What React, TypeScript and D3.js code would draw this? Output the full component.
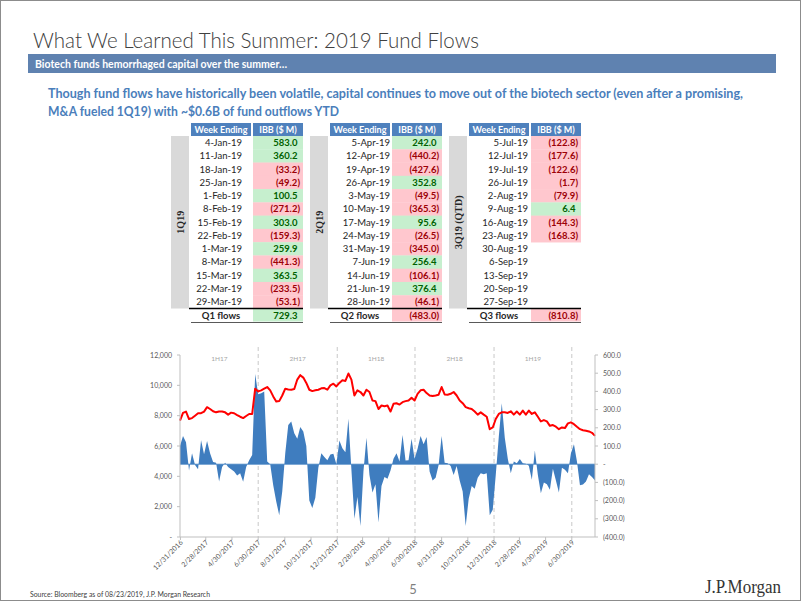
import React from "react";
import * as d3 from "d3";

// ---------- DATA ----------
const q1Weeks = ["4-Jan-19","11-Jan-19","18-Jan-19","25-Jan-19","1-Feb-19","8-Feb-19","15-Feb-19","22-Feb-19","1-Mar-19","8-Mar-19","15-Mar-19","22-Mar-19","29-Mar-19"];
const q1Flows: (number | null)[] = [583.0, 360.2, -33.2, -49.2, 100.5, -271.2, 303.0, -159.3, 259.9, -441.3, 363.5, -233.5, -53.1];
const q2Weeks = ["5-Apr-19","12-Apr-19","19-Apr-19","26-Apr-19","3-May-19","10-May-19","17-May-19","24-May-19","31-May-19","7-Jun-19","14-Jun-19","21-Jun-19","28-Jun-19"];
const q2Flows: (number | null)[] = [242.0, -440.2, -427.6, 352.8, -49.5, -365.3, 95.6, -26.5, -345.0, 256.4, -106.1, 376.4, -46.1];
const q3Weeks = ["5-Jul-19","12-Jul-19","19-Jul-19","26-Jul-19","2-Aug-19","9-Aug-19","16-Aug-19","23-Aug-19","30-Aug-19","6-Sep-19","13-Sep-19","20-Sep-19","27-Sep-19"];
const q3Flows: (number | null)[] = [-122.8, -177.6, -122.6, -1.7, -79.9, 6.4, -144.3, -168.3, null, null, null, null, null];
const quarterLabels = ["1Q19", "2Q19", "3Q19 (QTD)"];
const totalLabels = ["Q1 flows", "Q2 flows", "Q3 flows"];
const quarterTotals = [729.3, -483.0, -810.8];

// weekly series, week ending Fridays starting 12/30/2016
const firstWeek = "12/30/2016";
const indexLevel = [
  7670,8180,8270,7780,7840,8000,8160,8160,8270,8560,8440,8290,8220,8270,8270,8220,8070,8200,8160,8040,
  7930,7840,7980,8110,8110,9780,9600,9670,9780,9890,9670,9270,8930,8960,9330,9780,9730,9710,9760,10380,
  10670,10510,10160,9710,9620,9670,9710,9800,9820,9710,10000,10110,9930,10160,10330,10290,10780,10380,9330,9670,
  9560,9330,9710,9560,9000,8960,8440,8670,8620,8670,8270,8780,8820,8730,8890,8960,9000,9180,9000,9440,
  9670,9710,9490,9330,9290,9330,9380,9890,9400,9380,9440,9560,9330,9000,8820,8560,8490,8440,8270,8070,
  8220,8070,7930,7110,7220,7780,8110,8220,8220,8180,8290,8070,8270,8070,8330,8070,8330,8110,8220,7930,
  7620,7710,7620,7330,7380,7270,7110,7220,7180,7490,7560,7440,7270,7110,7040,7000,6960,6870,6670
];
const fundFlows = [
  100,155,120,-35,60,-5,-28,132,55,128,60,12,8,-95,-15,8,-15,-28,-40,-62,
  -50,-97,-15,22,50,495,385,390,400,15,0,-115,-205,-280,-150,60,215,235,170,140,
  205,180,100,-200,-240,-185,-20,60,40,22,53,58,0,130,88,65,250,-30,-300,-180,
  -340,-40,145,-60,-155,-110,-320,-120,-70,-80,-35,30,60,15,160,20,22,140,30,85,
  155,110,150,-40,-90,-75,-5,155,8,5,-10,-60,-10,-90,-150,-340,-190,-120,-135,-75,
  -50,-55,-50,-280,-250,-60,150,335,145,30,-50,15,5,28,5,2,-8,-85,75,-60,
  -160,-100,-110,-140,-25,-90,-155,-20,-30,-50,60,110,15,-115,-112,-95,-55,-70,-90
];
const xTickLabels = ["12/31/2016","2/28/2017","4/30/2017","6/30/2017","8/31/2017","10/31/2017","12/31/2017","2/28/2018","4/30/2018","6/30/2018","8/31/2018","10/31/2018","12/31/2018","2/28/2019","4/30/2019","6/30/2019"];
const halfBoundaries = ["12/31/2016","6/30/2017","12/31/2017","6/30/2018","12/31/2018","6/30/2019"];
const halfLabels = ["1H17","2H17","1H18","2H18","1H19"];
const leftTicks = [0, 2000, 4000, 6000, 8000, 10000, 12000];
const rightTicks = [-400, -300, -200, -100, 0, 100, 200, 300, 400, 500, 600];

// ---------- HELPERS ----------
const FONT = "Lato, 'Open Sans', sans-serif";
const parse = d3.timeParse("%m/%d/%Y");
const fmtFlow = (v: number) => (v < 0 ? `(${Math.abs(v).toFixed(1)})` : v.toFixed(1));

function QuarterTable({ x0, weeks, flows, label, totalLabel, total, dateRight }: any) {
  const headTop = 123, rowTop = 136, pitch = 13.27;
  const bandW = 18, wL = x0 + 20, wR = x0 + 80, iL = x0 + 82, iR = x0 + 132;
  const bodyBottom = rowTop + pitch * weeks.length;
  const valueX = (v: number) => (v < 0 ? iR - 3 : iR - 5.5);
  return (
    <g>
      <rect x={x0} y={rowTop} width={bandW} height={bodyBottom - rowTop} fill="#d9d9d9" />
      <text
        transform={`translate(${x0 + bandW / 2 + 3.5},${(rowTop + bodyBottom) / 2}) rotate(-90)`}
        textAnchor="middle" fontFamily="'Liberation Serif', serif" fontWeight="bold" fontSize={10} fill="#262626"
      >{label}</text>
      <rect x={wL} y={headTop} width={wR - wL} height={rowTop - headTop} fill="#4f81bd" />
      <rect x={iL} y={headTop} width={iR - iL} height={rowTop - headTop} fill="#4f81bd" />
      <text x={(wL + wR) / 2} y={headTop + 10} textAnchor="middle" fontFamily={FONT} fontWeight="bold" fontSize={9} fill="#fff">Week Ending</text>
      <text x={(iL + iR) / 2} y={headTop + 10} textAnchor="middle" fontFamily={FONT} fontWeight="bold" fontSize={9} fill="#fff">IBB ($ M)</text>
      {weeks.map((w: string, i: number) => {
        const v = flows[i];
        const y = rowTop + pitch * i;
        return (
          <g key={w}>
            {v !== null && (
              <rect x={iL} y={y} width={iR - iL} height={pitch + 0.3} fill={v < 0 ? "#ffc7ce" : "#c6efce"} />
            )}
            <text x={x0 + dateRight} y={y + 10} textAnchor="end" fontFamily={FONT} fontSize={9.5} fill="#262626">{w}</text>
            {v !== null && (
              <text x={valueX(v)} y={y + 10} textAnchor="end" fontFamily={FONT} fontWeight="bold" fontSize={9.5}
                fill={v < 0 ? "#9c0006" : "#006100"}>{fmtFlow(v)}</text>
            )}
          </g>
        );
      })}
      <rect x={iL} y={bodyBottom} width={iR - iL} height={13} fill={total < 0 ? "#ffc7ce" : "#c6efce"} />
      <line x1={x0 + 18} x2={iR} y1={bodyBottom} y2={bodyBottom} stroke="#000" strokeWidth={1.5} />
      <line x1={x0 + 20} x2={iR} y1={bodyBottom + 14} y2={bodyBottom + 14} stroke="#595959" strokeWidth={1} />
      <text x={(wL + wR) / 2} y={bodyBottom + 10.5} textAnchor="middle" fontFamily={FONT} fontWeight="bold" fontSize={9.5} fill="#262626">{totalLabel}</text>
      <text x={valueX(total)} y={bodyBottom + 10.5} textAnchor="end" fontFamily={FONT} fontWeight="bold" fontSize={9.5}
        fill={total < 0 ? "#9c0006" : "#006100"}>{fmtFlow(total)}</text>
    </g>
  );
}

export default function App() {
  const start = parse(firstWeek) as Date;
  const dates = indexLevel.map((_, i) => d3.timeDay.offset(start, 7 * i));
  const x = d3.scaleTime().domain([start, dates[dates.length - 1]]).range([180, 595]);
  const yL = d3.scaleLinear().domain([0, 12000]).range([537, 355]);
  const yR = d3.scaleLinear().domain([-400, 600]).range([537, 355]);

  const area = d3.area<number>()
    .x((_, i) => x(dates[i]))
    .y0(yR(0))
    .y1((d) => yR(d));
  const line = d3.line<number>()
    .x((_, i) => x(dates[i]))
    .y((d) => yL(d));

  const tables = [
    { x0: 171, weeks: q1Weeks, flows: q1Flows, dateRight: 71 },
    { x0: 310, weeks: q2Weeks, flows: q2Flows, dateRight: 80 },
    { x0: 449, weeks: q3Weeks, flows: q3Flows, dateRight: 79 },
  ];

  const bounds = halfBoundaries.map((s) => x(parse(s) as Date));

  return (
    <div style={{ position: "absolute", left: 0, top: 0 }}>
      <svg width={802} height={602} style={{ display: "block", background: "#fff" }}>
        <rect x={0.5} y={0.5} width={800} height={600} fill="#fff" stroke="#8c8c8c" strokeWidth={1} />

        {/* Title */}
        <text x={33} y={48} fontFamily={FONT} fontWeight={300} fontSize={22} fill="#404040" textLength={446} lengthAdjust="spacingAndGlyphs">
          What We Learned This Summer: 2019 Fund Flows
        </text>
        <rect x={28} y={54} width={748} height={19} fill="#5f82b0" />
        <text x={35} y={67.5} fontFamily={FONT} fontWeight="bold" fontSize={11} fill="#fff" textLength={252} lengthAdjust="spacingAndGlyphs">
          Biotech funds hemorrhaged capital over the summer…
        </text>
        <text x={48} y={98} fontFamily={FONT} fontWeight="bold" fontSize={13.5} fill="#4a7ebb" textLength={695} lengthAdjust="spacingAndGlyphs">
          Though fund flows have historically been volatile, capital continues to move out of the biotech sector (even after a promising,
        </text>
        <text x={48} y={116} fontFamily={FONT} fontWeight="bold" fontSize={13.5} fill="#4a7ebb" textLength={291} lengthAdjust="spacingAndGlyphs">
          M&amp;A fueled 1Q19) with ~$0.6B of fund outflows YTD
        </text>

        {/* Tables */}
        {tables.map((t, k) => (
          <QuarterTable key={k} x0={t.x0} weeks={t.weeks} flows={t.flows} dateRight={t.dateRight}
            label={quarterLabels[k]} totalLabel={totalLabels[k]} total={quarterTotals[k]} />
        ))}

        {/* Chart */}
        <g>
          {bounds.slice(1).map((bx, i) => (
            <line key={i} x1={bx} x2={bx} y1={347} y2={537} stroke="#c8c8c8" strokeDasharray="4,3" strokeWidth={1} />
          ))}
          {halfLabels.map((h, i) => (
            <text key={h} x={(bounds[i] + bounds[i + 1]) / 2} y={361} textAnchor="middle" fontFamily={FONT} fontSize={6.5} fill="#a6a6a6">{h}</text>
          ))}

          <path d={area(fundFlows) || ""} fill="#3f7dbf" />
          <line x1={180} x2={595} y1={yR(0)} y2={yR(0)} stroke="#3f7dbf" strokeWidth={0.8} />
          <path d={line(indexLevel) || ""} fill="none" stroke="#ff0000" strokeWidth={2} strokeLinejoin="round" />

          {/* axes */}
          <line x1={180} x2={180} y1={355} y2={537} stroke="#bfbfbf" />
          <line x1={595} x2={595} y1={355} y2={537} stroke="#bfbfbf" />
          <line x1={180} x2={595} y1={537} y2={537} stroke="#bfbfbf" />
          {leftTicks.map((t) => (
            <g key={t}>
              <line x1={177} x2={180} y1={yL(t)} y2={yL(t)} stroke="#bfbfbf" />
              <text x={172} y={yL(t) + 2.5} textAnchor="end" fontFamily={FONT} fontSize={7} fill="#595959">
                {t === 0 ? "-" : d3.format(",")(t)}
              </text>
            </g>
          ))}
          {rightTicks.map((t) => (
            <g key={t}>
              <line x1={595} x2={598} y1={yR(t)} y2={yR(t)} stroke="#bfbfbf" />
              <text x={603} y={yR(t) + 2.5} textAnchor="start" fontFamily={FONT} fontSize={7} fill="#595959">
                {t === 0 ? "-" : t < 0 ? `(${Math.abs(t).toFixed(1)})` : t.toFixed(1)}
              </text>
            </g>
          ))}
          {xTickLabels.map((s) => {
            const tx = x(parse(s) as Date);
            return (
              <g key={s}>
                <line x1={tx} x2={tx} y1={537} y2={540} stroke="#bfbfbf" />
                <text transform={`translate(${tx + 3},${543}) rotate(-45)`} textAnchor="end" fontFamily={FONT} fontSize={7} fill="#595959">{s}</text>
              </g>
            );
          })}
        </g>

        {/* Footer */}
        <text x={30} y={597} fontFamily={FONT} fontSize={7} fill="#404040" textLength={180} lengthAdjust="spacingAndGlyphs">Source: Bloomberg as of 08/23/2019, J.P. Morgan Research</text>
        <text x={413} y={594} textAnchor="middle" fontFamily={FONT} fontSize={13} fill="#7f7f7f">5</text>
        <text x={705} y={593} fontFamily="'Liberation Serif', serif" fontSize={19} fill="#333" textLength={76} lengthAdjust="spacingAndGlyphs">J.P.Morgan</text>
      </svg>
    </div>
  );
}
